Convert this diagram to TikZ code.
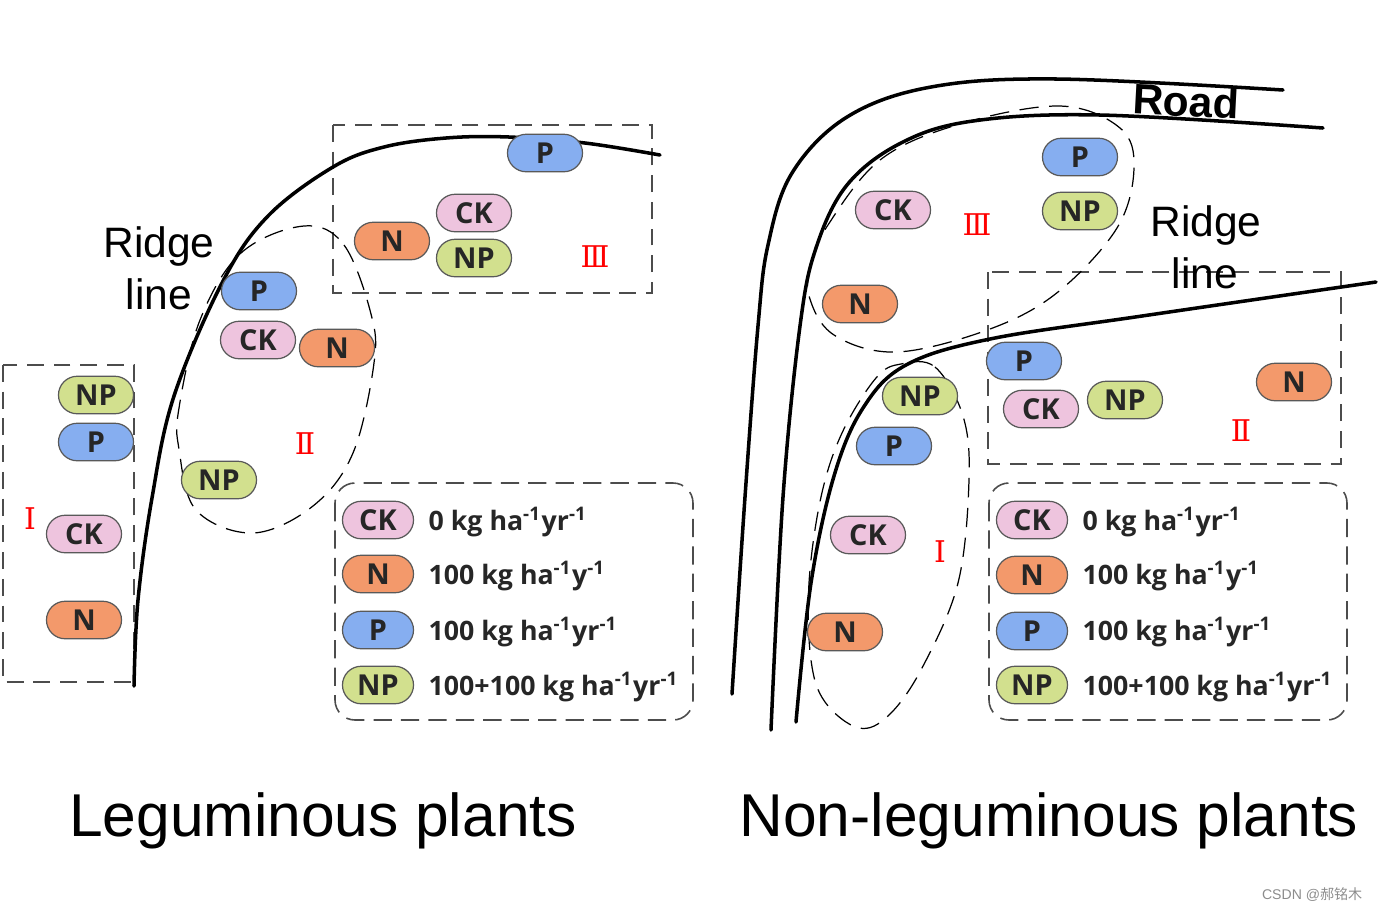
\documentclass[tikz,border=0pt]{standalone}
\usepackage{fontspec}
\setmainfont{Liberation Sans}
\newfontfamily\pillfont{Open Sans}
\newfontfamily\romanfont{DejaVu Serif}
\newfontfamily\cjkfont{Noto Sans CJK SC}
\usepackage{xcolor}
\usetikzlibrary{shapes,positioning,calc}
\definecolor{ckfill}{HTML}{EEC4DE}
\definecolor{nfill}{HTML}{F3996B}
\definecolor{pfill}{HTML}{86AEF0}
\definecolor{npfill}{HTML}{D2E08E}

\begin{document}
\begin{tikzpicture}[
    x=0.01cm, y=-0.01cm,
    pill/.style={rounded rectangle, draw=black!65, line width=0.35pt, minimum width=0.75cm, minimum height=0.375cm, inner sep=0pt, font=\pillfont\fontsize{8.2}{10}\selectfont\bfseries, text=black!85},
    ckpill/.style={pill, fill=ckfill},
    npill/.style={pill, fill=nfill},
    ppill/.style={pill, fill=pfill},
    nppill/.style={pill, fill=npfill},
    keypill/.style={minimum width=0.71cm},
    keytext/.style={anchor=west, inner sep=0pt, font=\pillfont\fontsize{7.6}{10}\selectfont\bfseries, text=black!85},
    plotname/.style={font=\fontsize{17.2}{20}\selectfont},
    ridge/.style={font=\fontsize{12.1}{15}\selectfont},
    zone/.style={text=red, font=\romanfont\fontsize{8.5}{10}\selectfont},
    line/.style={line width=1pt, line cap=round},
    box/.style={draw=black!70, line width=0.65pt, dash pattern=on 4.8pt off 2.8pt},
    keybox/.style={draw=black!70, line width=0.45pt, dash pattern=on 5.2pt off 2.6pt, rounded corners=0.2cm},
    area/.style={draw=black, line width=0.35pt, dash pattern=on 5.5pt off 3pt}
]
    \useasboundingbox (0,0) rectangle (1378,911);

    % dashed zones
    \draw[box] (3,365) rectangle (134,682);
    \draw[box] (333,125) rectangle (652,293);
    \draw[box] (988,272) rectangle (1341,464);
    \draw[keybox] (335,483) rectangle (693,720);
    \draw[keybox] (989,483) rectangle (1347,720);
    \draw[area] plot[smooth cycle, tension=0.6] coordinates {(304,226) (344,245) (371,314) (374,363) (353,453) (313,506) (253,533) (196,510) (179,449) (179,408) (200,320) (241,253)};
    \draw[area] plot[smooth cycle, tension=0.6] coordinates {(826,228) (880,160) (960,124) (1060,106) (1120,128) (1134,168) (1117,228) (1058,292) (990,329) (897,352) (834,335) (809,296) (812,262)};
    \draw[area] plot[smooth cycle, tension=0.6] coordinates {(901,364) (935,367) (963,416) (969,480) (958,583) (922,668) (889,715) (859,728) (825,702) (811,660) (809,583) (821,497) (842,433) (876,378)};

    % ridge lines and road
    \draw[line] plot[smooth, tension=0.6] coordinates {(134,686) (138,600) (152,498) (174,396) (223,281) (268,216) (333,167) (384,147) (446,138) (509,137) (585,143) (660,155)};
    \draw[line] plot[smooth, tension=0.6] coordinates {(732,694) (745,497) (758,326) (768,245) (792,173) (847,117) (931,87) (1057,79) (1283,90)};
    \draw[line] plot[smooth, tension=0.6] coordinates {(771,730) (783,497) (800,326) (816,248) (847,185) (901,143) (973,121) (1100,115) (1323,128)};
    \draw[line] plot[smooth, tension=0.6] coordinates {(796,722) (811,583) (834,476) (863,408) (906,365) (990,339) (1142,316) (1376,282)};

    % left plot
    \node[ppill] (pThree) at (545,153) {P};
    \node[ckpill] (ckThree) at (474,213) {CK};
    \node[nppill] (npThree) at (474,258) {NP};
    \node[npill] (nThree) at (392,241) {N};
    \node[ppill] (pTwo) at (259,291) {P};
    \node[ckpill] (ckTwo) at (258,340) {CK};
    \node[npill] (nTwo) at (337,348) {N};
    \node[nppill] (npTwo) at (219,480) {NP};
    \node[nppill] (npOne) at (96,395) {NP};
    \node[ppill] (pOne) at (96,442) {P};
    \node[ckpill] (ckOne) at (84,534) {CK};
    \node[npill] (nOne) at (84,620) {N};

    % right plot
    \node[ppill] (pThreeR) at (1080,157) {P};
    \node[nppill] (npThreeR) at (1080,211) {NP};
    \node[ckpill] (ckThreeR) at (893,210) {CK};
    \node[npill] (nThreeR) at (860,304) {N};
    \node[ppill] (pTwoR) at (1024,361) {P};
    \node[ckpill] (ckTwoR) at (1041,409) {CK};
    \node[nppill] (npTwoR) at (1125,400) {NP};
    \node[npill] (nTwoR) at (1294,382) {N};
    \node[nppill] (npOneR) at (920,396) {NP};
    \node[ppill] (pOneR) at (894,446) {P};
    \node[ckpill] (ckOneR) at (868,535) {CK};
    \node[npill] (nOneR) at (845,632) {N};

    % legends
    \node[ckpill, keypill] (ckKey) at (378,520) {CK};
    \node[npill, keypill] (nKey) at (378,574) {N};
    \node[ppill, keypill] (pKey) at (378,630) {P};
    \node[nppill, keypill] (npKey) at (378,685) {NP};
    \node[keytext] (ckText) at (428,522) {0 kg ha\textsuperscript{-1}yr\textsuperscript{-1}};
    \node[keytext] (nText) at (428,576) {100 kg ha\textsuperscript{-1}y\textsuperscript{-1}};
    \node[keytext] (pText) at (428,632) {100 kg ha\textsuperscript{-1}yr\textsuperscript{-1}};
    \node[keytext] (npText) at (428,687) {100+100 kg ha\textsuperscript{-1}yr\textsuperscript{-1}};

    \node[ckpill, keypill] (ckKeyR) at (1032,520) {CK};
    \node[npill, keypill] (nKeyR) at (1032,575) {N};
    \node[ppill, keypill] (pKeyR) at (1032,631) {P};
    \node[nppill, keypill] (npKeyR) at (1032,685) {NP};
    \node[keytext] (ckTextR) at (1082,522) {0 kg ha\textsuperscript{-1}yr\textsuperscript{-1}};
    \node[keytext] (nTextR) at (1082,576) {100 kg ha\textsuperscript{-1}y\textsuperscript{-1}};
    \node[keytext] (pTextR) at (1082,632) {100 kg ha\textsuperscript{-1}yr\textsuperscript{-1}};
    \node[keytext] (npTextR) at (1082,687) {100+100 kg ha\textsuperscript{-1}yr\textsuperscript{-1}};

    % zone numbers
    \node[zone] (zoneOne) at (30,519) {Ⅰ};
    \node[zone] (zoneTwo) at (305,444) {Ⅱ};
    \node[zone] (zoneThree) at (595,257) {Ⅲ};
    \node[zone] (zoneThreeR) at (977,225) {Ⅲ};
    \node[zone] (zoneOneR) at (940,552) {Ⅰ};
    \node[zone] (zoneTwoR) at (1241,431) {Ⅱ};

    % labels
    \node[ridge] (ridgeL) at (159,246) {Ridge};
    \node[ridge] (lineL) at (159,294) {line};
    \node[ridge] (ridgeR) at (1206,225) {Ridge};
    \node[ridge] (lineR) at (1205,273) {line};
    \node[font=\fontsize{12.1}{15}\selectfont\bfseries, rotate=-3] (road) at (1186,101) {Road};
    \node[plotname] (titleL) at (323,821) {Leguminous plants};
    \node[plotname] (titleR) at (1049,821) {Non-leguminous plants};
    \node[anchor=east, inner sep=0pt, text=black!45, font=\fontsize{4}{5}\selectfont] (mark) at (1363,895) {CSDN @{\cjkfont 郝铭木}};
\end{tikzpicture}
\end{document}
